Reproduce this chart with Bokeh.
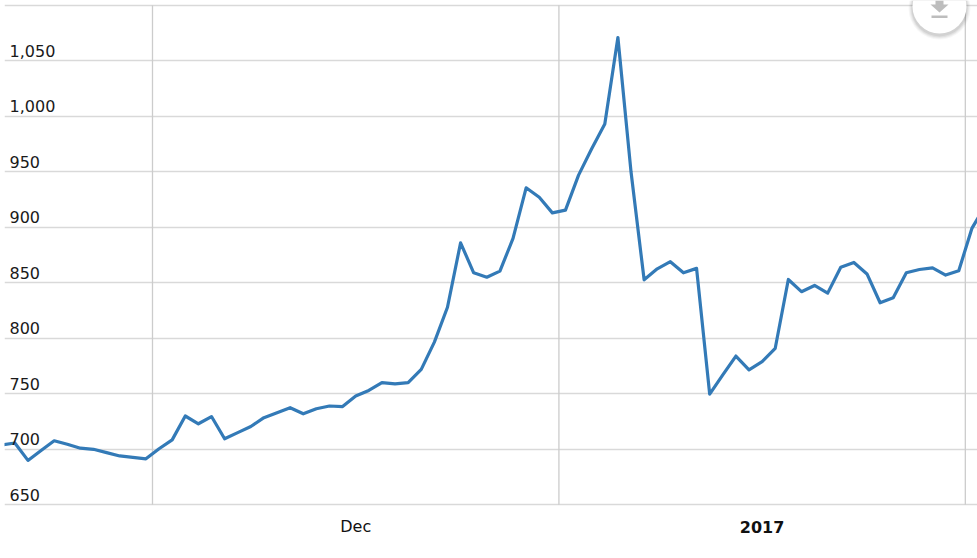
from datetime import datetime, timedelta
from bokeh.core.properties import value
from bokeh.embed import file_html
from bokeh.models import BoxAnnotation, ColumnDataSource, FixedTicker, PolyAnnotation, Range1d
from bokeh.plotting import figure
from bokeh.resources import INLINE

first_day = datetime(2016, 11, 19, 12)
prices = [704, 705.7, 690, 699, 707.7, 704.5, 701, 700, 697, 694, 692.8, 691.4, 700.5, 708.5, 730, 723,
          729.5, 709.5, 715, 720.5, 728.5, 733, 737.5, 732, 736.5, 739, 738.5, 748, 753, 760, 759, 760,
          772, 796.6, 828, 886, 859, 855, 860.5, 890, 935.6, 927, 913, 915.5, 947, 970.7, 993, 1071,
          950, 852.7, 862.6, 869, 859, 863, 749.7, 767, 784, 771.6, 779, 791, 853, 842, 847.6, 840.7,
          864, 868.3, 858, 832, 836.5, 859, 862, 863.5, 857, 860.8, 899, 919]
y_ticks = [650, 700, 750, 800, 850, 900, 950, 1000, 1050, 1100]
y_labels = ["650", "700", "750", "800", "850", "900", "950", "1,000", "1,050"]
month_starts = [datetime(2016, 12, 1), datetime(2017, 1, 1), datetime(2017, 2, 1)]
period_labels = ["Dec", "2017"]
period_centers = [datetime(2016, 12, 16, 12), datetime(2017, 1, 16, 12)]
period_styles = ["normal", "bold"]

PX_PER_DAY = 13.11
PX_PER_UNIT = 1.11
W, H = 977, 550
LEFT, BASE_PX = 4, 504.3


def px_to_date(px):
    return month_starts[0] + timedelta(days=(px - 152) / PX_PER_DAY)


def px_to_val(py):
    return 650 + (BASE_PX - py) / PX_PER_UNIT


dates = [first_day + timedelta(days=i) for i in range(len(prices))]

p = figure(width=W, height=H, output_backend="svg", toolbar_location=None,
           x_axis_type="datetime",
           x_range=Range1d(px_to_date(LEFT), px_to_date(W)),
           y_range=Range1d(px_to_val(H), px_to_val(0)),
           min_border_left=LEFT, min_border_right=0, min_border_top=0, min_border_bottom=0)
p.outline_line_color = None
p.background_fill_color = "white"
p.xaxis.visible = False
p.yaxis.visible = False
p.xgrid.visible = False
p.ygrid.ticker = FixedTicker(ticks=y_ticks)
p.ygrid.grid_line_color = "#d9d9d9"
p.ygrid.grid_line_width = 1.3

p.segment(x0=month_starts, x1=month_starts, y0=[650] * 3, y1=[1100] * 3, line_color="#cccccc", line_width=1.3)

p.line(dates, prices, line_color="#337ab7", line_width=3.2, line_join="round")

src = ColumnDataSource(dict(x=[px_to_date(9)] * len(y_labels), y=y_ticks[:-1], t=y_labels))
p.text(x="x", y="y", text="t", source=src, y_offset=-4, text_align="left", text_baseline="bottom",
       text_font=value("DejaVu Sans"), text_font_size="16px", text_color="#1a1a1a")

period_src = ColumnDataSource(dict(x=period_centers, y=[px_to_val(526)] * 2, t=period_labels, s=period_styles))
p.text(x="x", y="y", text="t", source=period_src, text_align="center", text_baseline="middle",
       text_font=value("DejaVu Sans"), text_font_size="16px", text_color="#111111", text_font_style="s")

# download button: soft shadow, white disc, grey icon
cx, cy = px_to_date(939), px_to_val(8)
for size, alpha in [(62, 0.03), (60, 0.04), (58, 0.05), (56, 0.06)]:
    p.scatter([cx], [cy], size=size, marker="circle", fill_color="black", fill_alpha=alpha, line_color=None)
p.scatter([cx], [px_to_val(6)], size=54, marker="circle", fill_color="white", line_color=None)
icon_x = [935, 943, 943, 948, 939, 930, 935]
icon_y = [0, 0, 4, 4, 12, 4, 4]
p.add_layout(PolyAnnotation(xs=[px_to_date(v) for v in icon_x], ys=[px_to_val(v) for v in icon_y],
                            fill_color="#bdbdbd", fill_alpha=1, line_color=None))
p.add_layout(BoxAnnotation(left=px_to_date(931), right=px_to_date(947), top=px_to_val(15), bottom=px_to_val(17.5),
                           fill_color="#bdbdbd", fill_alpha=1, line_color=None))

open("out.html", "w").write(file_html(p, INLINE))
